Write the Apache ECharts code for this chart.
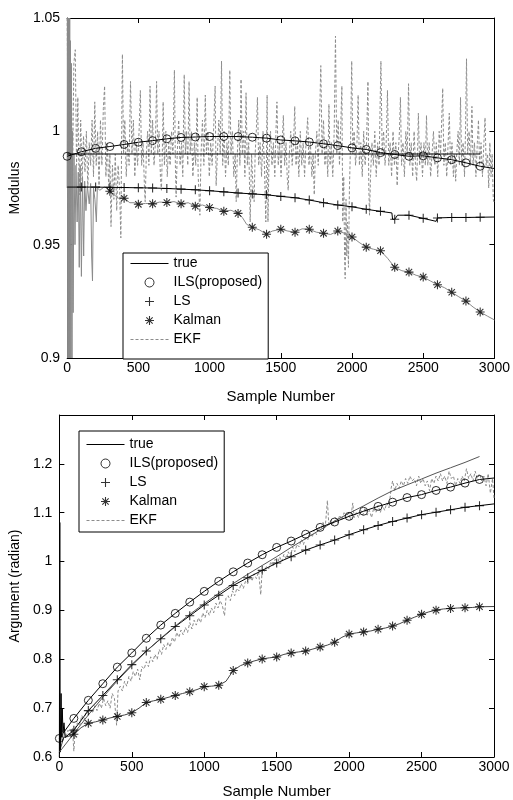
<!DOCTYPE html>
<html><head><meta charset="utf-8">
<script src="https://cdn.jsdelivr.net/npm/echarts@6/dist/echarts.min.js"></script>
<style>html,body{margin:0;padding:0;background:#fff}#c{width:513px;height:800px}</style>
</head><body><div id="c"></div>
<script>
// ---------- Modulus (top) ----------
const modTrue = [[0,0.99],[2900,0.99]];
const modILS = [[0,0.989],[100,0.991],[200,0.9925],[300,0.9933],[400,0.9942],[500,0.9952],[600,0.9959],[700,0.9967],[800,0.9973],[900,0.9975],[1000,0.9977],[1100,0.9977],[1200,0.9977],[1300,0.9974],[1400,0.997],[1500,0.9962],[1600,0.9958],[1700,0.9953],[1800,0.9945],[1900,0.9937],[2000,0.9927],[2100,0.992],[2200,0.9906],[2300,0.9898],[2400,0.989],[2500,0.9892],[2600,0.9883],[2700,0.9875],[2800,0.9861],[2900,0.9846],[3000,0.9836]];
const modLS = [[0,0.9754],[100,0.9754],[200,0.9754],[300,0.9753],[400,0.9752],[500,0.9751],[600,0.975],[700,0.9748],[800,0.9745],[900,0.9742],[1000,0.9738],[1100,0.9733],[1200,0.9728],[1300,0.9724],[1400,0.972],[1500,0.9713],[1600,0.9707],[1700,0.9697],[1800,0.9685],[1900,0.9675],[2000,0.9667],[2100,0.9656],[2200,0.9647],[2280,0.964],[2285,0.9612],[2300,0.9612],[2320,0.963],[2400,0.963],[2500,0.9616],[2590,0.9603],[2600,0.9618],[2700,0.962],[2800,0.962],[2900,0.9621],[3000,0.9622]];
const modKalman = [[0,0.975],[2,1.05],[4,0.9],[6,1.05],[8,0.9],[10,1.05],[12,0.9],[14,1.05],[16,0.9],[18,1.05],[20,0.9],[23,1.04],[26,0.9],[30,1.03],[34,0.9],[38,1.0],[42,0.92],[48,0.99],[55,0.95],[62,0.985],[70,0.96],[78,0.982],[85,0.94],[92,0.985],[100,0.936],[108,0.98],[116,0.945],[123,0.978],[132,0.965],[142,0.976],[155,0.968],[165,0.977],[172,0.945],[178,0.934],[185,0.975],[195,0.97],[205,0.96],[212,0.975],[230,0.974],[260,0.9755],[280,0.975],[300,0.9736],[330,0.972],[360,0.9705],[400,0.9705],[440,0.9685],[470,0.9685],[500,0.9678],[550,0.9682],[600,0.968],[650,0.9688],[700,0.9686],[750,0.969],[800,0.968],[850,0.9685],[900,0.967],[950,0.9675],[1000,0.9664],[1050,0.966],[1100,0.9647],[1150,0.9652],[1200,0.9638],[1230,0.962],[1260,0.959],[1300,0.9577],[1350,0.9565],[1400,0.9546],[1440,0.956],[1500,0.9568],[1550,0.956],[1600,0.9555],[1650,0.957],[1700,0.9568],[1750,0.9555],[1800,0.955],[1850,0.9545],[1900,0.956],[1950,0.955],[2000,0.9534],[2050,0.951],[2100,0.9489],[2150,0.948],[2200,0.9473],[2250,0.944],[2300,0.94],[2350,0.9385],[2400,0.9379],[2450,0.9365],[2500,0.9357],[2550,0.934],[2600,0.9323],[2650,0.931],[2700,0.929],[2750,0.927],[2800,0.9251],[2850,0.9225],[2900,0.9203],[2950,0.9185],[3000,0.9168]];
const modEKF = [[0,1.05],[8,0.99],[15,1.03],[22,0.975],[30,1.02],[38,0.98],[47,1.03],[57,1.036],[66,0.985],[75,1.015],[85,0.972],[95,1.005],[105,0.978],[115,0.998],[125,0.982],[135,1.0],[145,0.975],[155,0.995],[165,0.985],[175,1.005],[185,0.98],[194,1.013],[204,0.985],[214,1.0],[224,0.975],[234,1.005],[244,0.985],[254,1.01],[263,1.02],[272,0.98],[282,0.995],[292,0.975],[300,0.99],[308,0.958],[318,0.985],[328,0.97],[338,0.99],[348,0.965],[358,0.985],[368,0.975],[377,0.953],[383,1.0],[388,1.034],[396,0.99],[405,1.005],[415,0.98],[425,0.995],[435,0.985],[445,1.022],[455,0.99],[465,1.005],[475,0.98],[485,0.995],[495,0.985],[505,1.0],[514,1.018],[523,0.985],[533,0.995],[543,0.975],[548,0.969],[556,0.99],[565,1.0],[574,0.985],[582,1.02],[591,0.99],[600,1.005],[610,0.985],[620,0.995],[628,1.022],[636,0.99],[645,1.0],[655,0.98],[662,0.974],[668,0.99],[674,1.013],[683,0.985],[693,1.0],[703,0.98],[713,0.995],[723,0.985],[733,1.0],[743,0.99],[753,1.027],[760,0.985],[765,0.971],[773,0.99],[783,1.005],[793,0.985],[803,0.995],[812,0.98],[822,1.025],[830,0.99],[838,1.0],[847,0.985],[856,1.022],[864,0.99],[873,1.0],[883,0.98],[893,0.995],[903,0.985],[913,1.015],[920,0.98],[925,0.974],[932,0.963],[940,0.99],[950,1.005],[960,0.985],[970,1.016],[978,0.99],[988,1.0],[998,0.98],[1008,0.995],[1018,0.985],[1028,1.0],[1039,1.02],[1046,0.976],[1055,0.99],[1065,1.005],[1075,0.99],[1084,1.031],[1092,0.985],[1102,1.0],[1112,0.98],[1122,0.995],[1132,0.985],[1142,1.027],[1150,0.99],[1160,1.0],[1170,0.98],[1180,0.99],[1187,0.969],[1195,0.99],[1205,1.005],[1213,0.985],[1221,1.023],[1230,0.99],[1240,1.0],[1248,0.98],[1256,1.017],[1265,0.985],[1275,0.995],[1285,0.96],[1295,0.99],[1305,0.975],[1313,0.969],[1320,0.99],[1328,1.0],[1336,1.015],[1345,0.985],[1355,0.995],[1365,0.98],[1375,1.0],[1385,0.985],[1395,0.96],[1404,1.016],[1410,0.96],[1418,0.99],[1428,1.0],[1438,0.985],[1448,0.995],[1458,0.98],[1466,1.0],[1473,1.013],[1482,0.985],[1492,0.995],[1502,0.98],[1510,0.995],[1518,1.007],[1527,0.985],[1537,0.995],[1545,0.98],[1552,0.974],[1560,0.99],[1570,1.0],[1580,0.985],[1590,0.995],[1598,1.011],[1607,0.985],[1617,0.995],[1627,0.98],[1637,1.0],[1647,0.985],[1657,0.995],[1667,0.98],[1677,0.995],[1689,1.006],[1698,0.985],[1708,0.995],[1718,0.98],[1727,0.99],[1735,0.972],[1743,0.99],[1753,1.0],[1763,0.985],[1772,1.005],[1781,1.029],[1790,0.99],[1800,1.005],[1810,0.985],[1820,0.995],[1830,0.98],[1838,1.012],[1846,0.985],[1855,0.995],[1865,0.98],[1875,1.0],[1884,1.042],[1893,0.99],[1903,1.005],[1912,0.985],[1920,1.0],[1929,1.02],[1935,0.96],[1942,0.98],[1948,0.945],[1952,0.935],[1958,0.97],[1963,0.945],[1968,0.96],[1975,0.94],[1982,0.975],[1990,0.995],[1998,1.031],[2006,0.99],[2015,1.0],[2025,0.985],[2035,0.995],[2043,1.016],[2052,0.985],[2062,0.995],[2072,0.98],[2082,1.0],[2092,0.985],[2102,0.995],[2112,1.022],[2118,0.975],[2123,0.963],[2130,0.98],[2140,0.995],[2150,0.985],[2160,1.0],[2170,0.98],[2180,0.995],[2190,0.985],[2203,1.031],[2212,0.99],[2222,1.0],[2232,0.985],[2240,0.995],[2249,1.018],[2258,0.985],[2268,0.995],[2278,0.98],[2288,1.0],[2298,0.985],[2308,0.995],[2317,0.976],[2325,0.99],[2333,1.0],[2340,1.015],[2348,0.985],[2358,0.995],[2368,0.98],[2378,1.0],[2388,0.99],[2397,1.021],[2406,0.985],[2416,0.995],[2426,0.98],[2436,1.0],[2446,0.985],[2454,0.978],[2460,0.99],[2466,1.008],[2475,0.985],[2485,0.995],[2495,0.98],[2505,0.995],[2515,0.985],[2523,1.007],[2532,0.985],[2542,0.995],[2552,0.98],[2562,0.99],[2572,1.0],[2582,0.985],[2592,0.995],[2602,0.98],[2612,1.0],[2622,0.99],[2637,1.019],[2645,0.985],[2655,0.995],[2665,0.98],[2675,0.995],[2683,1.008],[2692,0.985],[2702,0.995],[2712,0.98],[2720,0.99],[2728,0.978],[2735,0.99],[2745,1.0],[2754,0.985],[2762,1.015],[2770,0.985],[2780,0.995],[2790,0.98],[2797,1.0],[2804,1.032],[2812,0.99],[2822,1.0],[2832,0.985],[2842,1.011],[2850,0.985],[2860,0.995],[2870,0.98],[2880,0.995],[2888,1.005],[2896,0.985],[2906,0.995],[2916,0.98],[2926,0.995],[2934,1.006],[2942,0.985],[2952,0.99],[2960,0.975],[2968,0.995],[2976,0.98],[2984,0.99],[2992,0.97],[3000,0.968]];

// ---------- Argument (bottom) ----------
const argTrue = [[0,0.61],[100,0.648],[200,0.686],[300,0.722],[400,0.756],[500,0.787],[600,0.816],[700,0.843],[800,0.868],[900,0.892],[1000,0.914],[1100,0.935],[1200,0.955],[1300,0.974],[1400,0.992],[1500,1.01],[1600,1.029],[1700,1.047],[1800,1.065],[1900,1.083],[2000,1.099],[2100,1.114],[2200,1.13],[2300,1.145],[2400,1.157],[2500,1.169],[2600,1.181],[2700,1.192],[2800,1.203],[2900,1.215]];
const argILS = [[0,0.638],[100,0.679],[200,0.716],[300,0.75],[400,0.784],[500,0.813],[600,0.843],[700,0.87],[800,0.894],[900,0.917],[1000,0.939],[1100,0.9596],[1200,0.979],[1300,0.997],[1400,1.014],[1500,1.029],[1600,1.042],[1700,1.056],[1800,1.07],[1900,1.081],[2000,1.0926],[2100,1.103],[2200,1.113],[2300,1.1216],[2400,1.131],[2500,1.137],[2600,1.1456],[2700,1.1524],[2800,1.1606],[2900,1.168],[3000,1.171]];
const argLS = [[0,0.6],[3,1.08],[6,0.61],[12,0.73],[16,0.64],[20,0.7],[25,0.65],[32,0.67],[40,0.64],[60,0.645],[100,0.655],[200,0.695],[300,0.726],[400,0.758],[500,0.789],[600,0.817],[700,0.842],[800,0.867],[900,0.889],[1000,0.911],[1100,0.931],[1200,0.951],[1300,0.967],[1400,0.982],[1500,0.997],[1600,1.01],[1700,1.0235],[1800,1.034],[1900,1.044],[2000,1.055],[2100,1.065],[2200,1.074],[2300,1.082],[2400,1.089],[2500,1.096],[2600,1.101],[2700,1.106],[2800,1.111],[2900,1.1145],[3000,1.118]];
const argKalman = [[0,0.61],[30,0.64],[60,0.642],[100,0.6466],[150,0.66],[200,0.669],[250,0.672],[300,0.6757],[350,0.68],[400,0.683],[450,0.686],[500,0.6906],[550,0.7],[600,0.7115],[650,0.715],[700,0.718],[750,0.722],[800,0.726],[850,0.73],[900,0.7336],[950,0.738],[1000,0.744],[1050,0.745],[1100,0.7467],[1150,0.755],[1200,0.777],[1250,0.787],[1300,0.7926],[1350,0.797],[1400,0.8007],[1450,0.803],[1500,0.8047],[1550,0.81],[1600,0.813],[1650,0.815],[1700,0.817],[1750,0.821],[1800,0.825],[1850,0.829],[1900,0.835],[1950,0.845],[2000,0.8516],[2050,0.854],[2100,0.856],[2150,0.858],[2200,0.8615],[2250,0.864],[2300,0.868],[2350,0.873],[2400,0.88],[2450,0.886],[2500,0.892],[2550,0.897],[2600,0.9006],[2650,0.903],[2700,0.904],[2750,0.905],[2800,0.9055],[2850,0.906],[2900,0.9075],[3000,0.908]];
const argEKF = [[0,0.6],[10,0.65],[20,0.63],[30,0.66],[45,0.64],[60,0.655],[75,0.64],[90,0.66],[100,0.612],[110,0.66],[125,0.67],[140,0.665],[155,0.685],[170,0.675],[185,0.695],[200,0.685],[215,0.7],[230,0.69],[245,0.705],[260,0.695],[275,0.71],[290,0.7],[305,0.72],[320,0.705],[335,0.715],[350,0.7],[365,0.73],[380,0.72],[395,0.665],[405,0.735],[420,0.745],[435,0.735],[450,0.755],[465,0.745],[480,0.765],[495,0.755],[510,0.775],[525,0.765],[540,0.78],[555,0.758],[570,0.785],[585,0.78],[600,0.795],[615,0.785],[630,0.805],[645,0.795],[660,0.81],[675,0.8],[690,0.82],[705,0.81],[720,0.83],[735,0.82],[750,0.835],[765,0.825],[780,0.845],[795,0.835],[810,0.855],[825,0.845],[840,0.86],[855,0.85],[870,0.865],[885,0.855],[900,0.875],[915,0.862],[930,0.88],[945,0.87],[960,0.885],[975,0.875],[990,0.895],[1005,0.885],[1020,0.9],[1035,0.89],[1050,0.905],[1065,0.895],[1080,0.915],[1095,0.905],[1110,0.92],[1125,0.91],[1140,0.889],[1150,0.925],[1165,0.93],[1180,0.92],[1195,0.94],[1210,0.93],[1225,0.945],[1240,0.94],[1255,0.955],[1270,0.945],[1285,0.96],[1300,0.955],[1315,0.97],[1330,0.96],[1345,0.975],[1360,0.965],[1375,0.98],[1390,0.932],[1400,0.985],[1415,0.98],[1430,0.99],[1445,0.985],[1460,1.0],[1475,0.99],[1490,1.005],[1505,0.995],[1520,1.01],[1535,1.0],[1550,1.015],[1565,1.005],[1580,1.02],[1595,1.01],[1610,1.03],[1625,1.02],[1640,1.035],[1655,1.03],[1670,1.045],[1685,1.035],[1700,1.05],[1715,1.045],[1730,1.06],[1745,1.05],[1760,1.065],[1775,1.055],[1790,1.07],[1805,1.065],[1820,1.08],[1835,1.07],[1850,1.125],[1860,1.075],[1875,1.085],[1890,1.075],[1905,1.09],[1920,1.08],[1935,1.095],[1950,1.085],[1965,1.1],[1980,1.09],[1995,1.1],[2010,1.085],[2025,1.12],[2035,1.09],[2050,1.1],[2065,1.09],[2080,1.105],[2095,1.095],[2110,1.11],[2125,1.095],[2140,1.105],[2155,1.09],[2170,1.11],[2185,1.1],[2200,1.115],[2215,1.1],[2230,1.115],[2245,1.105],[2260,1.12],[2275,1.11],[2290,1.15],[2300,1.165],[2315,1.145],[2330,1.16],[2345,1.15],[2360,1.165],[2375,1.155],[2390,1.17],[2405,1.16],[2420,1.175],[2435,1.165],[2450,1.17],[2465,1.155],[2480,1.175],[2495,1.16],[2510,1.17],[2525,1.155],[2540,1.165],[2555,1.145],[2570,1.17],[2585,1.16],[2600,1.175],[2615,1.165],[2630,1.18],[2645,1.165],[2660,1.175],[2675,1.16],[2690,1.185],[2705,1.17],[2720,1.175],[2735,1.155],[2750,1.17],[2765,1.16],[2780,1.175],[2795,1.165],[2810,1.19],[2825,1.17],[2840,1.18],[2855,1.165],[2870,1.185],[2885,1.17],[2900,1.18],[2915,1.165],[2930,1.175],[2945,1.155],[2960,1.18],[2975,1.14],[2990,1.17],[3000,1.13]];

const legendNames = ['true','ILS(proposed)','LS','Kalman','EKF'];
const xLabelName = 'Sample Number';

// marker positions: every 100 samples
function markers(arr, from, to){ return arr.filter(p => p[0] % 100 === 0 && p[0] >= from && p[0] <= to); }

const FONT = 'Liberation Sans';
const PLUS = 'path://M-0.12,-1L0.12,-1L0.12,1L-0.12,1Z M-1,-0.12L1,-0.12L1,0.12L-1,0.12Z';
const STAR = 'path://M-0.12,-1L0.12,-1L0.12,1L-0.12,1Z M-1,-0.12L1,-0.12L1,0.12L-1,0.12Z M-0.62,-0.79L0.79,0.62L0.62,0.79L-0.79,-0.62Z M-0.79,0.62L0.62,-0.79L0.79,-0.62L-0.62,0.79Z';
const plain = v => String(Math.round(v * 1000) / 1000);

function xAx(grid, pos, showLabel, gap){
  return {type:'value', gridIndex:grid, position:pos, min:0, max:3000, interval:500,
    name: showLabel ? xLabelName : '', nameLocation:'middle', nameGap:gap,
    nameTextStyle:{fontFamily:FONT,fontSize:15,color:'#000'},
    axisLine:{show:true,onZero:false,lineStyle:{color:'#000',width:1}},
    axisTick:{show:true,inside:true,length:5,lineStyle:{color:'#000'}},
    axisLabel:{show:showLabel,margin:3,fontFamily:FONT,fontSize:14,color:'#000',formatter:plain},
    splitLine:{show:false}};
}
function yAx(grid, pos, showLabel, mn, mx, iv, name, gap, showMax){
  return {type:'value', gridIndex:grid, position:pos, min:mn, max:mx, interval:iv,
    name: showLabel ? name : '', nameLocation:'middle', nameGap:gap,
    nameTextStyle:{fontFamily:FONT,fontSize:14,color:'#000'},
    axisLine:{show:true,onZero:false,lineStyle:{color:'#000',width:1}},
    axisTick:{show:true,inside:true,length:5,lineStyle:{color:'#000'}},
    axisLabel:{show:showLabel,margin:7,fontFamily:FONT,fontSize:14,color:'#000',showMaxLabel:showMax,formatter:plain},
    splitLine:{show:false}};
}
function line(name, data, xi, color, width, dash, z){
  return {type:'line', name:name, data:data, xAxisIndex:xi, yAxisIndex:xi, symbol:'none',
    showSymbol:false, smooth:false, z:z, silent:true,
    lineStyle:{color:color, width:width, type:dash||'solid'},
    itemStyle:{color:'rgba(0,0,0,0)', borderColor:'rgba(0,0,0,0)', borderWidth:0}};
}
function mk(name, data, xi, symbol, size, hollow){
  return {type:'scatter', name:name, data:data, xAxisIndex:xi, yAxisIndex:xi, symbol:symbol,
    symbolSize:size, z:10, silent:true,
    itemStyle: hollow ? {color:'rgba(0,0,0,0)', borderColor:'#000', borderWidth:1}
                      : {color:'#000'}};
}

const series = [
  // top
  line('EKF', modEKF, 0, '#8c8c8c', 1, [3,2], 2),
  line('kal-line', modKalman, 0, '#8a8a8a', 1, null, 3),
  line('ls-line', modLS, 0, '#000', 1, null, 4),
  line('true', modTrue, 0, '#000', 1, null, 5),
  line('ils-line', modILS, 0, '#000', 1, null, 5),
  mk('ILS(proposed)', markers(modILS, 0, 2900), 0, 'circle', 8, true),
  mk('LS', markers(modLS, 100, 2900), 0, PLUS, 9, false),
  mk('Kalman', markers(modKalman, 300, 2900), 0, STAR, 9, false),
  // bottom
  line('EKF', argEKF, 2, '#8c8c8c', 1, [3,2], 2),
  line('kal-line', argKalman, 2, '#444', 1, null, 3),
  line('ls-line', argLS, 2, '#000', 1, null, 4),
  line('true', argTrue, 2, '#555', 1, null, 5),
  line('ils-line', argILS, 2, '#000', 1, null, 5),
  mk('ILS(proposed)', markers(argILS, 0, 2900), 2, 'circle', 8, true),
  mk('LS', markers(argLS, 100, 2900), 2, PLUS, 9, false),
  mk('Kalman', markers(argKalman, 100, 2900), 2, STAR, 9, false)
];

const legendItems = legendNames.map(n => {
  if (n === 'true') return {name:n, lineStyle:{color:'#000', width:1}};
  if (n === 'EKF') return {name:n, lineStyle:{color:'#8c8c8c', width:1, type:[3,2]}};
  if (n === 'ILS(proposed)') return {name:n, itemStyle:{borderWidth:1}};
  return {name:n};
});

function leg(left, top, pad){
  return {show:true, orient:'vertical', left:left, top:top, selectedMode:false,
    data: legendItems,
    itemWidth:38, itemHeight:9, itemGap:2, padding:pad,
    backgroundColor:'#fff', borderColor:'#000', borderWidth:1, borderRadius:0,
    textStyle:{fontFamily:FONT, fontSize:14, color:'#000', lineHeight:17}, z:20};
}

const chart = echarts.init(document.getElementById('c'), null, {renderer:'canvas'});
chart.setOption({
  animation:false,
  backgroundColor:'#fff',
  grid:[{left:60, top:18, width:438, height:340, containLabel:false},
        {left:52, top:415, width:442, height:345, containLabel:false}],
  xAxis:[xAx(0,'bottom',true,31), xAx(0,'top',false,0), xAx(1,'bottom',true,27), xAx(1,'top',false,0)],
  yAxis:[yAx(0,'left',true,0.9,1.05,0.05,'Modulus',35,true), yAx(0,'right',false,0.9,1.05,0.05,'',0,true),
         yAx(1,'left',true,0.6,1.3,0.1,'Argument (radian)',31,false), yAx(1,'right',false,0.6,1.3,0.1,'',0,false)],
  legend:[leg(123,253,[2,6,11,7]), leg(79,431,[5,6,3,7])],
  series:series
});
</script></body></html>
